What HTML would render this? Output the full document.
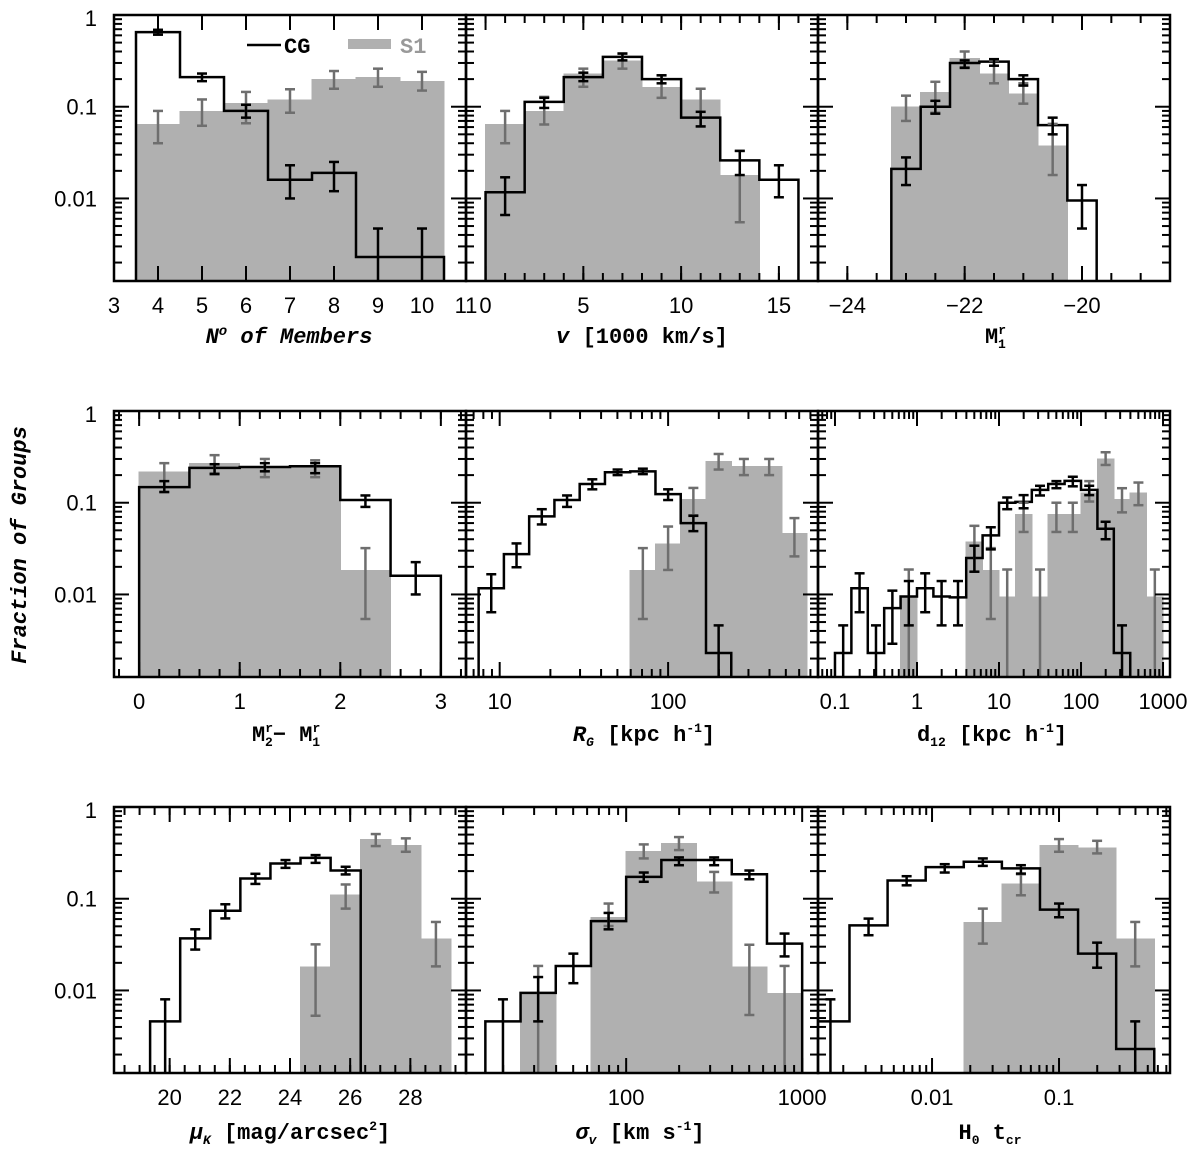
<!DOCTYPE html>
<html><head><meta charset="utf-8"><style>
html,body{margin:0;padding:0;background:#fff;}
svg{display:block;}
.tl{font-family:"Liberation Sans",sans-serif;font-size:22px;fill:#000;}
.tt{font-family:"Liberation Mono",monospace;font-size:22px;fill:#000;font-weight:bold;}
</style></head><body>
<svg id="chart" width="1200" height="1153" viewBox="0 0 1200 1153" xmlns="http://www.w3.org/2000/svg">
<defs></defs>
<text class="tt" transform="translate(26,545) rotate(-90)" text-anchor="middle" font-style="italic" font-size="25">Fraction of Groups</text>
<g>
<line x1="247" y1="45" x2="281" y2="45" stroke="#000" stroke-width="2.5"/>
<text class="tt" x="284" y="53">CG</text>
<rect x="348" y="39" width="43" height="10" fill="#b0b0b0"/>
<text class="tt" x="400" y="53" fill="#999" style="fill:#999">S1</text>
</g>
<g>
<text class="tt" x="289" y="343" text-anchor="middle" font-style="italic">N<tspan font-size="14" dy="-8">o</tspan><tspan dy="8"> of Members</tspan></text>
<text class="tt" x="642" y="343" text-anchor="middle"><tspan font-style="italic">v</tspan> [1000 km/s]</text>
<text class="tt" x="985" y="343">M<tspan font-size="13" dy="-9">r</tspan><tspan font-size="13" dx="-8" dy="14">1</tspan></text>
<text class="tt" x="252" y="741">M<tspan font-size="13" dy="-9">r</tspan><tspan font-size="13" dx="-8" dy="14">2</tspan><tspan dy="-5">− M</tspan><tspan font-size="13" dy="-9">r</tspan><tspan font-size="13" dx="-8" dy="14">1</tspan></text>
<text class="tt" x="644" y="741" text-anchor="middle"><tspan font-style="italic">R</tspan><tspan font-size="13" font-style="italic" dy="5">G</tspan><tspan dy="-5"> [kpc h</tspan><tspan font-size="13" dy="-9">-1</tspan><tspan dy="9">]</tspan></text>
<text class="tt" x="992" y="741" text-anchor="middle">d<tspan font-size="13" dy="5">12</tspan><tspan dy="-5"> [kpc h</tspan><tspan font-size="13" dy="-9">-1</tspan><tspan dy="9">]</tspan></text>
<text class="tt" x="290" y="1139" text-anchor="middle"><tspan font-style="italic">μ</tspan><tspan font-size="13" font-style="italic" dy="5">K</tspan><tspan dy="-5"> [mag/arcsec</tspan><tspan font-size="13" dy="-9">2</tspan><tspan dy="9">]</tspan></text>
<text class="tt" x="640" y="1139" text-anchor="middle"><tspan font-style="italic">σ</tspan><tspan font-size="13" font-style="italic" dy="5">v</tspan><tspan dy="-5"> [km  s</tspan><tspan font-size="13" dy="-9">-1</tspan><tspan dy="9">]</tspan></text>
<text class="tt" x="990" y="1139" text-anchor="middle">H<tspan font-size="13" dy="5">0</tspan><tspan dy="-5"> t</tspan><tspan font-size="13" dy="5">cr</tspan></text>
</g>
</svg>
<script>
// ---------- Panel 1: number of members ----------
const p1Edges=[3.5,4.5,5.5,6.5,7.5,8.5,9.5,10.5];
const p1CG=[0.65,0.21,0.09,0.016,0.019,0.0023,0.0023];
const p1CGLo=[0.61,0.19,0.076,0.01,0.012,0.0001,0.0001];
const p1CGHi=[0.69,0.23,0.105,0.023,0.025,0.0047,0.0047];
const p1S1=[0.065,0.09,0.11,0.12,0.2,0.21,0.19];
const p1S1Lo=[0.04,0.062,0.066,0.086,0.157,0.165,0.15];
const p1S1Hi=[0.09,0.12,0.145,0.155,0.245,0.26,0.24];
const p1Ticks=[3,4,5,6,7,8,9,10,11];
const p1Labels=['3','4','5','6','7','8','9','10','11'];
// ---------- Panel 2: velocity ----------
const p2Edges=[0,2,4,6,8,10,12,14,16];
const p2CG=[0.0117,0.113,0.21,0.35,0.2,0.076,0.026,0.016];
const p2CGLo=[0.0066,0.097,0.19,0.32,0.18,0.061,0.018,0.0103];
const p2CGHi=[0.017,0.125,0.235,0.38,0.22,0.088,0.033,0.023];
const p2S1=[0.065,0.09,0.23,0.32,0.165,0.12,0.018,null];
const p2S1Lo=[0.04,0.064,0.165,0.26,0.125,0.061,0.0055,null];
const p2S1Hi=[0.09,0.128,0.26,0.38,0.22,0.157,0.033,null];
const p2Ticks=[0,5,10,15];
const p2Labels=['0','5','10','15'];
// ---------- Panel 3: M1 ----------
const p3Edges=[-23.25,-22.75,-22.25,-21.75,-21.25,-20.75,-20.25,-19.75];
const p3CG=[0.021,0.1,0.3,0.31,0.2,0.063,0.0095];
const p3CGLo=[0.014,0.084,0.265,0.28,0.17,0.05,0.0047];
const p3CGHi=[0.028,0.116,0.32,0.33,0.22,0.076,0.014];
const p3S1=[0.1,0.145,0.34,0.23,0.14,0.038,null];
const p3S1Lo=[0.07,0.086,0.27,0.18,0.108,0.018,null];
const p3S1Hi=[0.132,0.187,0.4,0.32,0.18,0.065,null];
const p3Ticks=[-24,-22,-20];
const p3Labels=['−24','−22','−20'];
// ---------- Panel 4: M2-M1 ----------
const p4Edges=[0,0.5,1,1.5,2,2.5,3];
const p4CG=[0.148,0.24,0.245,0.25,0.107,0.016];
const p4CGLo=[0.131,0.205,0.22,0.21,0.09,0.01];
const p4CGHi=[0.172,0.263,0.27,0.27,0.12,0.0225];
const p4S1=[0.22,0.27,0.25,0.25,0.0185,null];
const p4S1Lo=[0.13,0.21,0.19,0.19,0.0054,null];
const p4S1Hi=[0.27,0.33,0.3,0.29,0.032,null];
const p4Ticks=[0,1,2,3];
const p4Labels=['0','1','2','3'];
// ---------- Panel 5: R_G (log10 edges) ----------
const p5LogEdges=[0.875,1.025,1.175,1.325,1.475,1.625,1.775,1.925,2.075,2.225,2.375,2.525,2.675,2.825];
const p5CG=[0.0117,0.0275,0.071,0.107,0.16,0.215,0.22,0.124,0.06,0.0023,null,null,null];
const p5CGLo=[0.0064,0.0198,0.058,0.09,0.14,0.2,0.205,0.107,0.049,0.0001,null,null,null];
const p5CGHi=[0.0166,0.036,0.085,0.12,0.18,0.23,0.235,0.14,0.072,0.0046,null,null,null];
const p5S1=[null,null,null,null,null,null,0.0185,0.036,0.11,0.285,0.25,0.25,0.047];
const p5S1Lo=[null,null,null,null,null,null,0.0054,0.0185,0.073,0.23,0.2,0.2,0.026];
const p5S1Hi=[null,null,null,null,null,null,0.032,0.055,0.145,0.34,0.3,0.3,0.068];
const p5Ticks=[1,2];
const p5Labels=['10','100'];
// ---------- Panel 6: d12 (log10 edges) ----------
const p6LogEdges=[-1,-0.8,-0.6,-0.4,-0.2,0,0.2,0.4,0.6,0.8,1,1.2,1.4,1.6,1.8,2,2.2,2.4,2.6,2.8,3];
const p6CG=[0.0023,0.0117,0.0023,0.0071,0.0095,0.0117,0.0095,0.0093,0.025,0.044,0.1,0.102,0.138,0.16,0.173,0.138,0.052,0.0023,null,null];
const p6CGLo=[0.0001,0.0064,0.0001,0.0029,0.0046,0.0064,0.0046,0.0046,0.0177,0.031,0.085,0.087,0.12,0.144,0.151,0.121,0.04,0.0001,null,null];
const p6CGHi=[0.0046,0.017,0.0046,0.011,0.014,0.017,0.014,0.014,0.034,0.054,0.114,0.121,0.153,0.172,0.192,0.153,0.062,0.0046,null,null];
const p6S1=[null,null,null,null,0.0095,null,null,null,0.0376,0.0185,0.0095,0.075,0.0095,0.075,0.075,0.13,0.305,0.11,0.13,0.0095];
const p6S1Lo=[null,null,null,null,0.0001,null,null,null,0.0177,0.0054,0.0001,0.048,0.0001,0.048,0.048,0.103,0.258,0.0785,0.094,0.0001];
const p6S1Hi=[null,null,null,null,0.0187,null,null,null,0.056,0.032,0.0187,0.1,0.0187,0.1,0.1,0.172,0.355,0.144,0.166,0.0187];
const p6Ticks=[-1,0,1,2,3];
const p6Labels=['0.1','1','10','100','1000'];
// ---------- Panel 7: mu_K ----------
const p7Edges=[19.35,20.35,21.35,22.35,23.35,24.35,25.35,26.35,27.35,28.35,29.35];
const p7CG=[0.0046,0.037,0.074,0.166,0.242,0.279,0.203,null,null,null];
const p7CGLo=[0.0001,0.0279,0.061,0.145,0.217,0.246,0.184,null,null,null];
const p7CGHi=[0.008,0.0464,0.087,0.187,0.264,0.299,0.223,null,null,null];
const p7S1=[null,null,null,null,null,0.0183,0.111,0.447,0.385,0.037];
const p7S1Lo=[null,null,null,null,null,0.0053,0.078,0.375,0.325,0.0183];
const p7S1Hi=[null,null,null,null,null,0.0318,0.143,0.507,0.455,0.0558];
const p7Ticks=[20,22,24,26,28];
const p7Labels=['20','22','24','26','28'];
// ---------- Panel 8: sigma_v (log10 edges) ----------
const p8LogEdges=[1.2,1.4,1.6,1.8,2.0,2.2,2.4,2.6,2.8,3.0];
const p8CG=[0.0046,0.0094,0.0185,0.057,0.173,0.264,0.264,0.185,0.0324];
const p8CGLo=[0.0001,0.0046,0.012,0.0464,0.153,0.232,0.232,0.163,0.0235];
const p8CGHi=[0.008,0.014,0.0252,0.07,0.193,0.282,0.282,0.203,0.0417];
const p8S1=[null,0.0094,null,0.063,0.331,0.407,0.155,0.0183,0.0094];
const p8S1Lo=[null,0.0001,null,0.0504,0.275,0.339,0.117,0.0054,0.0001];
const p8S1Hi=[null,0.0185,null,0.0886,0.391,0.47,0.196,0.0315,0.0185];
const p8Ticks=[2,3];
const p8Labels=['100','1000'];
// ---------- Panel 9: H0 t_cr (log10 edges) ----------
const p9LogEdges=[-2.95,-2.65,-2.35,-2.05,-1.75,-1.45,-1.15,-0.85,-0.55,-0.25];
const p9CG=[0.0046,0.0513,0.158,0.221,0.253,0.214,0.076,0.0252,0.0023];
const p9CGLo=[0.0001,0.04,0.14,0.193,0.228,0.188,0.0628,0.0177,0.0001];
const p9CGHi=[0.008,0.0607,0.176,0.238,0.275,0.232,0.0886,0.0332,0.0046];
const p9S1=[null,null,null,null,0.0558,0.147,0.385,0.362,0.037];
const p9S1Lo=[null,null,null,null,0.0324,0.109,0.325,0.312,0.0183];
const p9S1Hi=[null,null,null,null,0.078,0.185,0.447,0.428,0.0558];
const p9Ticks=[-2,-1];
const p9Labels=['0.01','0.1'];

const NS='http://www.w3.org/2000/svg';
const svg=document.getElementById('chart');
const defs=svg.querySelector('defs');
const ROW_TOP=[15,411,807], PH=266, PW=352, COL_X=[114,466,818];
const LBL_Y=[313,709,1105];

function mk(tag,attrs,parent){const e=document.createElementNS(NS,tag);for(const k in attrs)e.setAttribute(k,attrs[k]);(parent||svg).appendChild(e);return e;}

const panels=[
 {name:'members',row:0,col:0,log:false,d0:3,d1:11,edges:p1Edges,cg:p1CG,cgLo:p1CGLo,cgHi:p1CGHi,s1:p1S1,s1Lo:p1S1Lo,s1Hi:p1S1Hi,ticks:p1Ticks,labels:p1Labels,minorStep:0},
 {name:'velocity',row:0,col:1,log:false,d0:-1,d1:17,edges:p2Edges,cg:p2CG,cgLo:p2CGLo,cgHi:p2CGHi,s1:p2S1,s1Lo:p2S1Lo,s1Hi:p2S1Hi,ticks:p2Ticks,labels:p2Labels,minorStep:1},
 {name:'m1',row:0,col:2,log:false,d0:-24.5,d1:-18.5,edges:p3Edges,cg:p3CG,cgLo:p3CGLo,cgHi:p3CGHi,s1:p3S1,s1Lo:p3S1Lo,s1Hi:p3S1Hi,ticks:p3Ticks,labels:p3Labels,minorStep:0.5},
 {name:'m2-m1',row:1,col:0,log:false,d0:-0.25,d1:3.25,edges:p4Edges,cg:p4CG,cgLo:p4CGLo,cgHi:p4CGHi,s1:p4S1,s1Lo:p4S1Lo,s1Hi:p4S1Hi,ticks:p4Ticks,labels:p4Labels,minorStep:0.2},
 {name:'rg',row:1,col:1,log:true,d0:0.8,d1:2.89,edges:p5LogEdges,cg:p5CG,cgLo:p5CGLo,cgHi:p5CGHi,s1:p5S1,s1Lo:p5S1Lo,s1Hi:p5S1Hi,ticks:p5Ticks,labels:p5Labels},
 {name:'d12',row:1,col:2,log:true,d0:-1.207,d1:3.085,edges:p6LogEdges,cg:p6CG,cgLo:p6CGLo,cgHi:p6CGHi,s1:p6S1,s1Lo:p6S1Lo,s1Hi:p6S1Hi,ticks:p6Ticks,labels:p6Labels},
 {name:'muk',row:2,col:0,log:false,d0:18.15,d1:29.85,edges:p7Edges,cg:p7CG,cgLo:p7CGLo,cgHi:p7CGHi,s1:p7S1,s1Lo:p7S1Lo,s1Hi:p7S1Hi,ticks:p7Ticks,labels:p7Labels,minorStep:0.5},
 {name:'sigma',row:2,col:1,log:true,d0:1.09,d1:3.09,edges:p8LogEdges,cg:p8CG,cgLo:p8CGLo,cgHi:p8CGHi,s1:p8S1,s1Lo:p8S1Lo,s1Hi:p8S1Hi,ticks:p8Ticks,labels:p8Labels},
 {name:'tcr',row:2,col:2,log:true,d0:-2.898,d1:-0.126,edges:p9LogEdges,cg:p9CG,cgLo:p9CGLo,cgHi:p9CGHi,s1:p9S1,s1Lo:p9S1Lo,s1Hi:p9S1Hi,ticks:p9Ticks,labels:p9Labels}
];

panels.forEach((p,pi)=>{
 const X0=COL_X[p.col], Y0=ROW_TOP[p.row], YB=Y0+PH, X1=X0+PW;
 const fx=v=>X0+(v-p.d0)/(p.d1-p.d0)*PW;
 const fy=v=>Y0+(-Math.log10(v))/2.9*PH;
 const clip=mk('clipPath',{id:'clip'+pi},defs);
 mk('rect',{x:X0,y:Y0,width:PW,height:PH},clip);
 const g=mk('g',{});
 
 
 const cg=mk('g',{'clip-path':'url(#clip'+pi+')'},g);
 // S1 bars
 p.s1.forEach((v,i)=>{
  if(v==null)return;
  const xa=fx(p.edges[i]),xb=fx(p.edges[i+1]),y=fy(v);
  const r=mk('rect',{x:xa-0.5,y:y,width:xb-xa+1,height:YB-y+3,fill:'#b0b0b0','shape-rendering':'crispEdges'},cg);
  
  
 });
 // CG step line
 let d='',started=false,last=-1;
 p.cg.forEach((v,i)=>{
  if(v==null)return;
  const xa=fx(p.edges[i]),xb=fx(p.edges[i+1]),y=fy(v);
  if(!started){d+='M'+xa+','+(YB+5)+' L'+xa+','+y;started=true;}
  else d+=' L'+xa+','+y;
  d+=' L'+xb+','+y;last=xb;
 });
 d+=' L'+last+','+(YB+5);
 const path=mk('path',{d:d,fill:'none',stroke:'#000','stroke-width':2.5,'stroke-linejoin':'miter'},cg);
 
 
 // error bars
 function errs(vals,lo,hi,color,nm){
  vals.forEach((v,i)=>{
   if(v==null||lo[i]==null)return;
   const cx=(fx(p.edges[i])+fx(p.edges[i+1]))/2, ya=fy(lo[i]), yb=fy(hi[i]);
   const eg=mk('g',{stroke:color,'stroke-width':2.5},cg);
   
   
   mk('line',{x1:cx,y1:ya,x2:cx,y2:yb},eg);
   mk('line',{x1:cx-5,y1:ya,x2:cx+5,y2:ya},eg);
   mk('line',{x1:cx-5,y1:yb,x2:cx+5,y2:yb},eg);
  });
 }
 errs(p.s1,p.s1Lo,p.s1Hi,'#6e6e6e','s1-error-bar');
 errs(p.cg,p.cgLo,p.cgHi,'#000','cg-error-bar');
 // ticks
 const tg=mk('g',{stroke:'#000','stroke-width':2},g);
 
 
 function xt(x,len){ if(x<X0+1||x>X1-1)return; mk('line',{x1:x,y1:YB,x2:x,y2:YB-len},tg); mk('line',{x1:x,y1:Y0,x2:x,y2:Y0+len},tg);}
 if(p.log){
  for(let dd=Math.floor(p.d0);dd<=Math.ceil(p.d1);dd++){
   for(let m=1;m<10;m++){const lv=dd+Math.log10(m); if(lv<p.d0||lv>p.d1)continue; xt(fx(lv),m===1?15:8);}
  }
 } else {
  if(p.minorStep){const n0=Math.ceil(p.d0/p.minorStep-1e-6),n1=Math.floor(p.d1/p.minorStep+1e-6);for(let n=n0;n<=n1;n++)xt(fx(n*p.minorStep),8);}
  p.ticks.forEach(t=>xt(fx(t),15));
 }
 for(let dd=0;dd<=3;dd++){
  for(let m=1;m<10;m++){
   const v=m*Math.pow(10,-dd-1+ (m===1?1:0));
   const y=fy(v); if(y<Y0+1||y>YB-1)continue;
   const len=m===1?15:8;
   mk('line',{x1:X0,y1:y,x2:X0+len,y2:y},tg);
   mk('line',{x1:X1,y1:y,x2:X1-len,y2:y},tg);
  }
 }
 // frame
 const fr=mk('rect',{x:X0,y:Y0,width:PW,height:PH,fill:'none',stroke:'#000','stroke-width':2.5},g);
 
 
 // tick labels
 p.ticks.forEach((t,i)=>{
  const tx=mk('text',{x:fx(t),y:LBL_Y[p.row],'text-anchor':'middle',class:'tl'},g);
  
  
  tx.textContent=p.labels[i];
 });
 if(p.col===0){
  [['1',1],['0.1',0.1],['0.01',0.01]].forEach(([s,v])=>{
   const y=fy(v);
   const tx=mk('text',{x:97,y:(v===1?y+11:y+8),'text-anchor':'end',class:'tl'},g);
   
   
   tx.textContent=s;
  });
 }
});
</script>
</body></html>
